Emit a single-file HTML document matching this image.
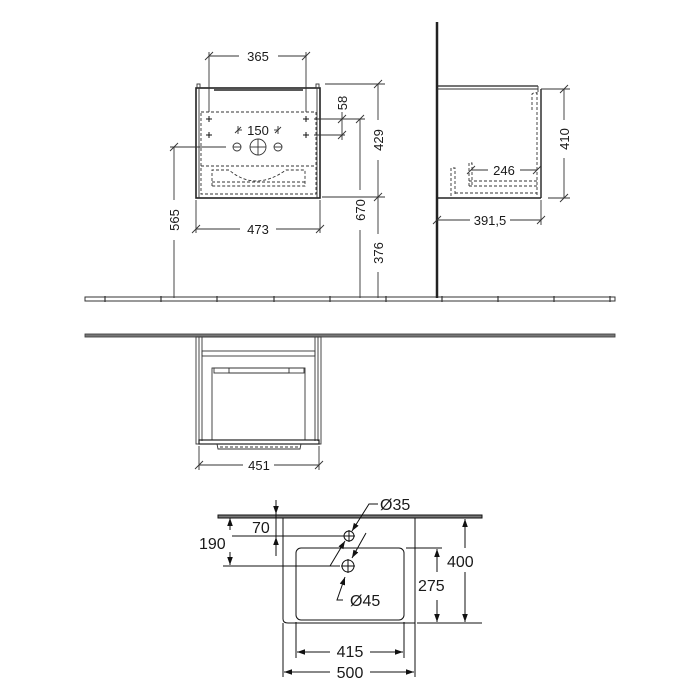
<!DOCTYPE html>
<html><head><meta charset="utf-8"><style>
html,body{margin:0;padding:0;background:#fff;}
svg{display:block;}
text{font-family:"Liberation Sans",Arial,sans-serif;fill:#1a1a1a;}
</style></head><body>
<svg width="700" height="700" viewBox="0 0 700 700" xmlns="http://www.w3.org/2000/svg">
<defs>
<marker id="ar" viewBox="0 0 10 10" refX="10" refY="5" markerWidth="8" markerHeight="8" orient="auto-start-reverse"><path d="M0,1.5 L10,5 L0,8.5 z" fill="#111"/></marker>
</defs>
<g stroke="#333" stroke-width="0.9" fill="none">
<rect x="85" y="297" width="530" height="4" fill="#fff" stroke="#333" stroke-width="1"/>
<g stroke="#333" stroke-width="1.2">
<line x1="105" y1="296" x2="105" y2="302"/><line x1="161" y1="296" x2="161" y2="302"/><line x1="217" y1="296" x2="217" y2="302"/><line x1="274" y1="296" x2="274" y2="302"/><line x1="330" y1="296" x2="330" y2="302"/><line x1="386" y1="296" x2="386" y2="302"/><line x1="442" y1="296" x2="442" y2="302"/><line x1="498" y1="296" x2="498" y2="302"/><line x1="554" y1="296" x2="554" y2="302"/><line x1="610" y1="296" x2="610" y2="302"/>
</g>
<rect x="196" y="88" width="124" height="110" stroke="#222" stroke-width="1.6"/>
<line x1="199" y1="88" x2="199" y2="198"/><line x1="317" y1="88" x2="317" y2="198"/>
<rect x="197" y="84" width="3" height="4"/><rect x="316" y="84" width="3" height="4"/>
<line x1="214" y1="90" x2="303" y2="90" stroke="#222" stroke-width="1.4"/>
<g stroke-dasharray="3,2">
<rect x="201" y="112" width="115" height="82"/>
<line x1="201" y1="166" x2="316" y2="166"/>
<path d="M212,186 V170 H229 Q255,192 286,170 H305 V186 Z"/>
<line x1="212" y1="182" x2="305" y2="182"/>
</g>
<g stroke="#111" stroke-width="1">
<line x1="206" y1="119" x2="212" y2="119"/><line x1="209" y1="116" x2="209" y2="122"/>
<line x1="206" y1="135" x2="212" y2="135"/><line x1="209" y1="132" x2="209" y2="138"/>
<line x1="303" y1="119" x2="309" y2="119"/><line x1="306" y1="116" x2="306" y2="122"/>
<line x1="303" y1="135" x2="309" y2="135"/><line x1="306" y1="132" x2="306" y2="138"/>
</g>
<circle cx="237" cy="147" r="4"/><circle cx="278" cy="147" r="4"/><circle cx="258" cy="147" r="8"/>
<line x1="233" y1="147" x2="241" y2="147"/><line x1="274" y1="147" x2="282" y2="147"/><line x1="250" y1="147" x2="266" y2="147"/><line x1="258" y1="139" x2="258" y2="155"/>
<line x1="209" y1="52" x2="209" y2="112"/><line x1="306" y1="52" x2="306" y2="112"/>
<line x1="209" y1="56" x2="239" y2="56"/><line x1="278" y1="56" x2="306" y2="56"/>
<line x1="205" y1="60" x2="213" y2="52"/><line x1="302" y1="60" x2="310" y2="52"/>
<line x1="238" y1="126" x2="238" y2="134"/><line x1="278" y1="126" x2="278" y2="134"/>
<line x1="238" y1="130" x2="242" y2="130"/><line x1="274" y1="130" x2="278" y2="130"/>
<line x1="235" y1="133" x2="241" y2="127"/><line x1="275" y1="133" x2="281" y2="127"/>
<line x1="196" y1="200" x2="196" y2="233"/><line x1="320" y1="200" x2="320" y2="233"/>
<line x1="196" y1="229" x2="240" y2="229"/><line x1="276" y1="229" x2="320" y2="229"/>
<line x1="192" y1="233" x2="200" y2="225"/><line x1="316" y1="233" x2="324" y2="225"/>
<line x1="170" y1="147" x2="226" y2="147"/>
<line x1="174" y1="147" x2="174" y2="200"/><line x1="174" y1="240" x2="174" y2="298"/>
<line x1="170" y1="151" x2="178" y2="143"/>
<line x1="314" y1="119" x2="365" y2="119"/><line x1="314" y1="135" x2="345" y2="135"/>
<line x1="342" y1="112" x2="342" y2="140"/>
<line x1="338" y1="123" x2="346" y2="115"/><line x1="338" y1="139" x2="346" y2="131"/>
<line x1="360" y1="119" x2="360" y2="190"/><line x1="360" y1="230" x2="360" y2="298"/>
<line x1="356" y1="123" x2="364" y2="115"/>
<line x1="325" y1="84" x2="385" y2="84"/><line x1="322" y1="197" x2="385" y2="197"/>
<line x1="378" y1="84" x2="378" y2="120"/><line x1="378" y1="160" x2="378" y2="234"/><line x1="378" y1="272" x2="378" y2="298"/>
<line x1="374" y1="88" x2="382" y2="80"/><line x1="374" y1="201" x2="382" y2="193"/>
<line x1="437" y1="22" x2="437" y2="298" stroke="#222" stroke-width="2.5"/>
<line x1="437" y1="86" x2="538" y2="86" stroke="#222" stroke-width="1.2"/>
<line x1="437" y1="89" x2="538" y2="89"/>
<line x1="538" y1="86" x2="538" y2="92"/>
<line x1="541" y1="89" x2="541" y2="198" stroke="#222" stroke-width="1.4"/>
<line x1="437" y1="198" x2="541" y2="198" stroke="#222" stroke-width="1.4"/>
<g stroke-dasharray="3,2">
<line x1="537" y1="92" x2="537" y2="196"/>
<path d="M532,110 V94 Q536,91 537,94"/>
<path d="M451,196 V168 H455 V196"/><path d="M469,186 V163 H472 V186"/>
<line x1="469" y1="181" x2="537" y2="181"/><line x1="469" y1="186" x2="537" y2="186"/>
<line x1="455" y1="193" x2="537" y2="193"/>
</g>
<line x1="541" y1="89" x2="570" y2="89"/><line x1="548" y1="198" x2="570" y2="198"/>
<line x1="564" y1="89" x2="564" y2="120"/><line x1="564" y1="158" x2="564" y2="198"/>
<line x1="560" y1="93" x2="568" y2="85"/><line x1="560" y1="202" x2="568" y2="194"/>
<line x1="471" y1="170" x2="488" y2="170"/><line x1="520" y1="170" x2="537" y2="170"/>
<line x1="467" y1="174" x2="475" y2="166"/><line x1="533" y1="174" x2="541" y2="166"/>
<line x1="541" y1="200" x2="541" y2="225"/>
<line x1="437" y1="220" x2="470" y2="220"/><line x1="510" y1="220" x2="541" y2="220"/>
<line x1="433" y1="224" x2="441" y2="216"/><line x1="537" y1="224" x2="545" y2="216"/>
<rect x="85" y="334" width="530" height="3" fill="#777" stroke="#444"/>
<rect x="196" y="337" width="125" height="107"/>
<line x1="199" y1="337" x2="199" y2="441"/><line x1="318" y1="337" x2="318" y2="441"/>
<line x1="202" y1="337" x2="202" y2="441"/><line x1="315" y1="337" x2="315" y2="441"/>
<rect x="202" y="351" width="113" height="5"/>
<rect x="212" y="368" width="93" height="72"/>
<rect x="214" y="368" width="90" height="5"/>
<rect x="229" y="368" width="60" height="5"/>
<rect x="199" y="440" width="120" height="4" stroke="#222" stroke-width="1.2"/>
<path d="M217,444 L218,449 H300 L301,444" />
<line x1="220" y1="447" x2="298" y2="447" stroke-dasharray="3,2"/>
<line x1="199" y1="446" x2="199" y2="470"/><line x1="319" y1="446" x2="319" y2="470"/>
<line x1="199" y1="465" x2="243" y2="465"/><line x1="274" y1="465" x2="319" y2="465"/>
<line x1="195" y1="469" x2="203" y2="461"/><line x1="315" y1="469" x2="323" y2="461"/>
</g>
<g stroke="#111" stroke-width="1" fill="none">
<rect x="218" y="515" width="264" height="3" fill="#777"/>
<path d="M283,518 V619 Q283,623 288,623 H415 V518"/>
<rect x="296" y="548" width="108" height="72" rx="5"/>
<circle cx="349" cy="536" r="5"/><circle cx="348" cy="566" r="6"/>
<line x1="343" y1="536" x2="355" y2="536"/><line x1="349" y1="530" x2="349" y2="542"/>
<line x1="341" y1="566" x2="355" y2="566"/><line x1="348" y1="559" x2="348" y2="573"/>
<line x1="232" y1="536" x2="343" y2="536"/>
<line x1="223" y1="566" x2="340" y2="566"/>
<line x1="276" y1="500" x2="276" y2="556"/>
<line x1="276" y1="500" x2="276" y2="514" marker-end="url(#ar)"/>
<line x1="276" y1="552" x2="276" y2="537" marker-end="url(#ar)"/>
<line x1="230" y1="530" x2="230" y2="518" marker-end="url(#ar)"/>
<line x1="230" y1="552" x2="230" y2="565" marker-end="url(#ar)"/>
<path d="M378,504 H369 L352,531" marker-end="url(#ar)"/>
<line x1="330" y1="566" x2="345" y2="541" marker-end="url(#ar)"/>
<line x1="366" y1="533" x2="352" y2="558" marker-end="url(#ar)"/>
<path d="M343,600 H337 L345,577" marker-end="url(#ar)"/>
<line x1="406" y1="548" x2="442" y2="548"/><line x1="417" y1="623" x2="482" y2="623"/>
<line x1="437" y1="572" x2="437" y2="549" marker-end="url(#ar)"/>
<line x1="437" y1="600" x2="437" y2="622" marker-end="url(#ar)"/>
<line x1="465" y1="548" x2="465" y2="519" marker-end="url(#ar)"/>
<line x1="465" y1="572" x2="465" y2="622" marker-end="url(#ar)"/>
<line x1="296" y1="622" x2="296" y2="658"/><line x1="404" y1="622" x2="404" y2="658"/>
<line x1="283" y1="623" x2="283" y2="677"/><line x1="415" y1="623" x2="415" y2="677"/>
<line x1="330" y1="652" x2="297" y2="652" marker-end="url(#ar)"/>
<line x1="370" y1="652" x2="403" y2="652" marker-end="url(#ar)"/>
<line x1="330" y1="672" x2="284" y2="672" marker-end="url(#ar)"/>
<line x1="370" y1="672" x2="414" y2="672" marker-end="url(#ar)"/>
</g>
<g font-size="13">
<text x="258" y="61" text-anchor="middle">365</text>
<text x="258" y="135" text-anchor="middle">150</text>
<text x="258" y="234" text-anchor="middle">473</text>
<text x="504" y="175" text-anchor="middle">246</text>
<text x="490" y="225" text-anchor="middle">391,5</text>
<text x="259" y="470" text-anchor="middle">451</text>
<text transform="translate(179,220) rotate(-90)" text-anchor="middle">565</text>
<text transform="translate(347,103) rotate(-90)" text-anchor="middle">58</text>
<text transform="translate(365,210) rotate(-90)" text-anchor="middle">670</text>
<text transform="translate(383,140) rotate(-90)" text-anchor="middle">429</text>
<text transform="translate(383,253) rotate(-90)" text-anchor="middle">376</text>
<text transform="translate(569,139) rotate(-90)" text-anchor="middle">410</text>
</g>
<g font-size="16">
<text x="252" y="533">70</text>
<text x="199" y="549">190</text>
<text x="380" y="510">Ø35</text>
<text x="350" y="606">Ø45</text>
<text x="418" y="591">275</text>
<text x="447" y="567">400</text>
<text x="350" y="657" text-anchor="middle">415</text>
<text x="350" y="678" text-anchor="middle">500</text>
</g>
</svg>
</body></html>
